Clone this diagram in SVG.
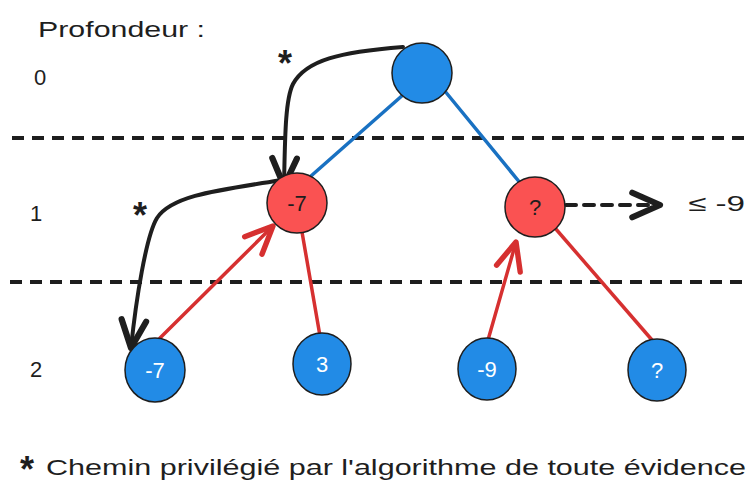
<svg xmlns="http://www.w3.org/2000/svg" width="756" height="494" viewBox="0 0 756 494">
<style>
.t{font-family:"Liberation Sans","DejaVu Sans",sans-serif;fill:#1e1e1e}
.nb{fill:#228be6;stroke:#1e1e1e;stroke-width:1.5}
.nr{fill:#fa5252;stroke:#1e1e1e;stroke-width:1.5}
.dash{stroke:#1e1e1e;stroke-width:4;stroke-dasharray:12 8;fill:none}
.blk{stroke:#1e1e1e;stroke-width:4;fill:none;stroke-linecap:round;stroke-linejoin:round}
.red{stroke:#d63030;stroke-width:3.5;fill:none;stroke-linecap:round}
.blue{stroke:#1971c2;stroke-width:3.5;fill:none;stroke-linecap:round}
.lbl{font-size:22px;text-anchor:middle}
.star{font-size:36px;font-weight:bold}
</style>
<defs>
<marker id="ab" markerUnits="userSpaceOnUse" markerWidth="40" markerHeight="40" refX="0" refY="0" viewBox="-22 -12 26 24" orient="auto">
<path d="M -18 -8 L 0 0 L -18 8" fill="none" stroke="#1e1e1e" stroke-width="4" stroke-linecap="round" stroke-linejoin="round"/>
</marker>
<marker id="ar" markerUnits="userSpaceOnUse" markerWidth="40" markerHeight="40" refX="0" refY="0" viewBox="-22 -12 26 24" orient="auto">
<path d="M -18 -8 L 0 0 L -18 8" fill="none" stroke="#d63030" stroke-width="3.5" stroke-linecap="round" stroke-linejoin="round"/>
</marker>
</defs>
<rect width="756" height="494" fill="#ffffff"/>
<g id="labels">
<text class="t" x="38" y="37" font-size="22" textLength="167" lengthAdjust="spacingAndGlyphs">Profondeur :</text>
<text class="t" x="34" y="85" font-size="22">0</text>
<text class="t" x="30" y="221" font-size="22">1</text>
<text class="t" x="30" y="377" font-size="22">2</text>
<text class="t star" x="278" y="76">*</text>
<text class="t star" x="133" y="228">*</text>
<text class="t star" x="20" y="482">*</text>
<text class="t" x="46" y="475" font-size="22" textLength="700" lengthAdjust="spacingAndGlyphs">Chemin privilégié par l'algorithme de toute évidence</text>
<text class="t" x="688" y="211" font-size="22" textLength="57" lengthAdjust="spacingAndGlyphs">≤ -9</text>
</g>
<g id="depth-lines">
<line class="dash" x1="12" y1="138" x2="746" y2="138"/>
<line class="dash" x1="10" y1="282" x2="746" y2="282"/>
</g>
<g id="connectors">
<line class="blue" x1="404" y1="94" x2="311" y2="176"/>
<line class="blue" x1="444" y1="90" x2="521" y2="184"/>
<line class="red" x1="160" y1="338" x2="273" y2="226" marker-end="url(#ar)"/>
<line class="red" x1="302" y1="232" x2="320" y2="336"/>
<line class="red" x1="488" y1="340" x2="516" y2="242" marker-end="url(#ar)"/>
<line class="red" x1="555" y1="228" x2="652" y2="340" stroke-width="4.5"/>
<path class="blk" d="M 403 47 C 340 52, 306 60, 293 84 C 285 100, 285 140, 284 186" marker-end="url(#ab)"/>
<path class="blk" d="M 282 180 C 220 190, 172 195, 157 218 C 146 236, 136 300, 131 348" marker-end="url(#ab)"/>
<path class="blk" d="M 566 205 L 660 205" stroke-dasharray="10 8" marker-end="url(#ab)"/>
</g>
<g id="node-root">
<circle class="nb" cx="422" cy="73" r="30"/>
</g>
<g id="node-l1-left">
<circle class="nr" cx="297" cy="203" r="30"/>
<text class="t lbl" x="297" y="211">-7</text>
</g>
<g id="node-l1-right">
<circle class="nr" cx="535" cy="207" r="30"/>
<text class="t lbl" x="535" y="215">?</text>
</g>
<g id="node-l2-a">
<ellipse class="nb" cx="155" cy="370" rx="30" ry="32"/>
<text class="lbl" x="155" y="378" fill="#ffffff" font-family="Liberation Sans, sans-serif">-7</text>
</g>
<g id="node-l2-b">
<ellipse class="nb" cx="322" cy="364" rx="29" ry="31"/>
<text class="lbl" x="322" y="372" fill="#ffffff" font-family="Liberation Sans, sans-serif">3</text>
</g>
<g id="node-l2-c">
<ellipse class="nb" cx="487" cy="369" rx="29" ry="31"/>
<text class="lbl" x="487" y="377" fill="#ffffff" font-family="Liberation Sans, sans-serif">-9</text>
</g>
<g id="node-l2-d">
<ellipse class="nb" cx="657" cy="370" rx="29" ry="31"/>
<text class="lbl" x="657" y="378" fill="#ffffff" font-family="Liberation Sans, sans-serif">?</text>
</g>
</svg>
